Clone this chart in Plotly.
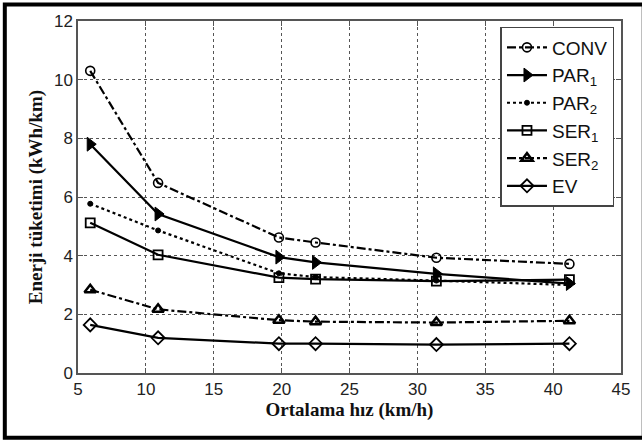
import plotly.graph_objects as go

speed = [5.9, 10.9, 19.8, 22.5, 31.4, 41.2]
conv = [10.3, 6.48, 4.62, 4.45, 3.93, 3.72]
par1 = [7.8, 5.42, 3.95, 3.77, 3.38, 3.05]
par2 = [5.77, 4.86, 3.4, 3.27, 3.15, 3.0]
ser1 = [5.12, 4.03, 3.25, 3.2, 3.13, 3.18]
ser2 = [2.84, 2.17, 1.8, 1.75, 1.72, 1.78]
ev = [1.64, 1.2, 1.0, 1.0, 0.97, 1.0]

x_ticks = [5, 10, 15, 20, 25, 30, 35, 40, 45]
y_ticks = [0, 2, 4, 6, 8, 10, 12]

series = [
    ("CONV", conv, "dashdot", "circle-open", 9, 1.6),
    ("PAR<sub>1</sub>", par1, "solid", "triangle-right", 12, 1),
    ("PAR<sub>2</sub>", par2, "dot", "circle", 5, 1),
    ("SER<sub>1</sub>", ser1, "solid", "square-open", 9, 1.8),
    ("SER<sub>2</sub>", ser2, "dashdot", "triangle-up-open", 10, 2.5),
    ("EV", ev, "solid", "diamond-open", 10, 1.8),
]

fig = go.Figure()
for name, ys, dash, sym, size, mlw in series:
    fig.add_trace(go.Scatter(
        x=speed, y=ys, name=name, mode="lines+markers",
        line=dict(color="black", width=2.2, dash=dash),
        marker=dict(symbol=sym, size=size, color="black",
                    line=dict(color="black", width=mlw)),
    ))

axis_common = dict(
    showline=True, linecolor="#555", linewidth=1.5, mirror="ticks",
    ticks="inside", ticklen=5, tickcolor="#555",
    showgrid=True, gridcolor="#555", griddash="dot", gridwidth=1,
    zeroline=False,
    tickfont=dict(family="Liberation Sans, Arial", size=17, color="#222"),
)

title_font = dict(family="Liberation Serif, Times New Roman", size=19, color="#111")

fig.update_layout(
    width=642, height=441,
    margin=dict(l=78, r=15, t=19, b=68),
    paper_bgcolor="white", plot_bgcolor="white",
    xaxis=dict(range=[5, 45], tickvals=x_ticks,
               title=dict(text="<b>Ortalama hız (km/h)</b>", standoff=4, font=title_font),
               **axis_common),
    yaxis=dict(range=[0, 12], tickvals=y_ticks,
               title=dict(text="<b>Enerji tüketimi (kWh/km)</b>", standoff=6, font=title_font),
               **axis_common),
    legend=dict(x=0.988, y=0.983, xanchor="right", yanchor="top",
                bgcolor="white", bordercolor="#444", borderwidth=1.5,
                font=dict(family="Liberation Sans, Arial", size=19, color="#111"),
                itemwidth=40),
    showlegend=True,
)

# outer frame of the figure image
fig.add_shape(type="rect", xref="paper", yref="paper",
              x0=(4 - 78) / 549, x1=(650 - 78) / 549,
              y0=-(438 - 373) / 354, y1=1 + (19 - 2.5) / 354,
              line=dict(color="black", width=4), layer="above")

fig.write_html("out.html",
               config={"displayModeBar": False},
               post_script="document.body.style.margin='0';document.body.style.padding='0';")
